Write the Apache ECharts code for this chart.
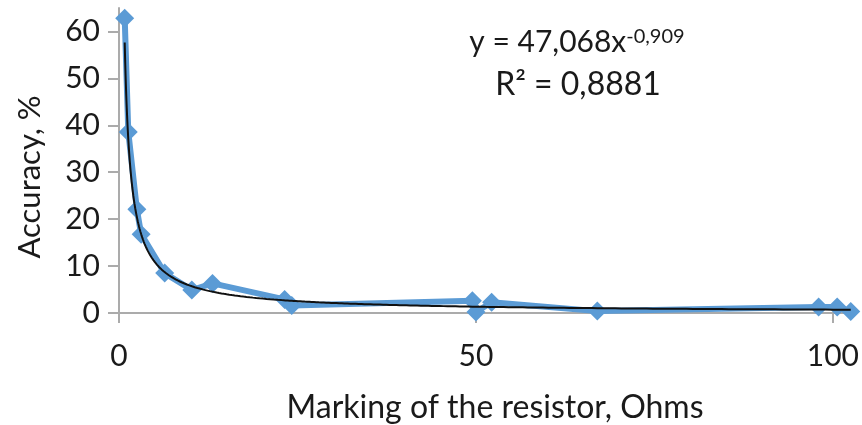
<!DOCTYPE html>
<html>
<head>
<meta charset="utf-8">
<script src="https://cdn.jsdelivr.net/npm/echarts@6/dist/echarts.min.js"></script>
<style>
html,body{margin:0;padding:0;background:#fff;}
#chart{width:862px;height:425px;}
</style>
</head>
<body>
<div id="chart"></div>
<script>
// Measured data (Marking of the resistor, Ohms vs Accuracy, %)
var resistorOhms = [0.8, 1.3, 2.5, 3.1, 6.4, 10.2, 13.1, 23.2, 24.2, 49.5, 50.0, 52.2, 67.0, 98.0, 100.6, 102.5];
var accuracyPct  = [62.8, 38.6, 22.1, 16.8, 8.5, 4.9, 6.3, 2.9, 1.6, 2.6, 0.2, 2.3, 0.4, 1.3, 1.3, 0.3];
var xTickValues = [0, 50, 100];
var yTickValues = [0, 10, 20, 30, 40, 50, 60];
// Power trendline as stated in the chart: y = 47,068 x^-0,909
var trendCoef = 47.068;
var trendExp = -0.909;
var trendFrom = 0.8, trendTo = 102.5;

var FONT = 'Lato';
var mainData = resistorOhms.map(function (x, i) { return [x, accuracyPct[i]]; });
var trendData = [];
var steps = 400;
for (var k = 0; k <= steps; k++) {
  var t = k / steps;
  var x = trendFrom * Math.pow(trendTo / trendFrom, t);
  trendData.push([x, trendCoef * Math.pow(x, trendExp)]);
}

var chart = echarts.init(document.getElementById('chart'), null, {renderer: 'canvas'});
chart.setOption({
  animation: false,
  backgroundColor: '#fff',
  grid: {left: 119, right: 5, top: 8, bottom: 112, containLabel: false},
  xAxis: {
    type: 'value', min: 0, max: 103.2,
    axisLine: {show: true, lineStyle: {color: '#ababab', width: 2}},
    axisTick: {show: true, length: 10, customValues: xTickValues, lineStyle: {color: '#ababab', width: 2}},
    axisLabel: {customValues: xTickValues, margin: 28, fontFamily: FONT, fontSize: 30, color: '#1a1a1a'},
    splitLine: {show: false}
  },
  yAxis: {
    type: 'value', min: 0, max: 65,
    axisLine: {show: true, lineStyle: {color: '#ababab', width: 2}},
    axisTick: {show: true, length: 11, customValues: yTickValues, lineStyle: {color: '#ababab', width: 2}},
    axisLabel: {customValues: yTickValues, margin: 19, fontFamily: FONT, fontSize: 30, color: '#1a1a1a'},
    splitLine: {show: false}
  },
  graphic: [
    {type: 'text', x: 30, y: 177, rotation: Math.PI / 2,
     style: {text: 'Accuracy, %', fontFamily: FONT, fontSize: 31, fill: '#1a1a1a', align: 'center', verticalAlign: 'middle'}},
    {type: 'text', x: 495, y: 408,
     style: {text: 'Marking of the resistor, Ohms', fontFamily: FONT, fontSize: 32, fill: '#1a1a1a', align: 'center', verticalAlign: 'middle'}},
    {type: 'text', x: 577, y: 42,
     style: {text: '{a|y = 47,068x}{s|-0,909}', align: 'center', verticalAlign: 'middle', fill: '#1a1a1a',
       rich: {a: {fontFamily: FONT, fontSize: 30, fill: '#1a1a1a'},
              s: {fontFamily: FONT, fontSize: 20, fill: '#1a1a1a', verticalAlign: 'top'}}}},
    {type: 'text', x: 578, y: 85,
     style: {text: 'R² = 0,8881', fontFamily: FONT, fontSize: 32, fill: '#1a1a1a', align: 'center', verticalAlign: 'middle'}}
  ],
  series: [
    {
      type: 'line', data: mainData, z: 2,
      lineStyle: {color: '#5b9bd5', width: 6},
      itemStyle: {color: '#5b9bd5'},
      symbol: 'diamond', symbolSize: 19, showSymbol: true
    },
    {
      type: 'line', data: trendData, z: 3,
      lineStyle: {color: '#111', width: 2},
      symbol: 'none', smooth: false
    }
  ]
});
</script>
</body>
</html>
